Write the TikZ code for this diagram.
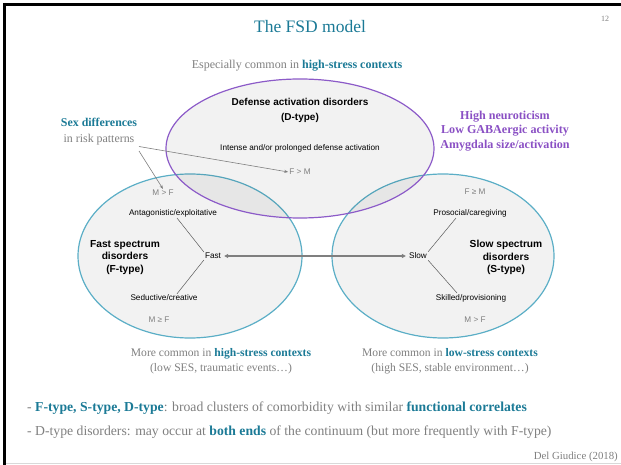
\documentclass[tikz,border=0pt]{standalone}
\usepackage{fontspec}
\setmainfont{Liberation Serif}
\setsansfont{Liberation Sans}
\usetikzlibrary{shapes.geometric,arrows.meta}
\definecolor{tealc}{HTML}{1B7A96}
\definecolor{grayt}{HTML}{7F7F7F}
\definecolor{purpt}{HTML}{8A50C4}
\definecolor{purpl}{HTML}{8C5BC8}
\definecolor{bluel}{HTML}{5BAEC6}
\definecolor{linec}{HTML}{595959}
\tikzset{
  blob/.style={ellipse, inner sep=0pt, fill=black, fill opacity=0.05, text opacity=1, line width=1.2pt},
  serift/.style={font=\fontsize{12}{14}\selectfont, text=grayt, align=center, inner sep=1pt},
  sanss/.style={font=\sffamily\fontsize{8.2}{9.5}\selectfont, text=black, inner sep=1pt},
  sexlab/.style={font=\sffamily\fontsize{8.2}{9.5}\selectfont, text=grayt, inner sep=1pt},
  sansb/.style={font=\sffamily\bfseries\fontsize{10.2}{12.5}\selectfont, align=center, inner sep=1pt},
  thinln/.style={draw=linec, line width=0.5pt},
  ptr/.style={draw=grayt, line width=0.6pt, -{Stealth[length=4pt,width=3pt]}},
}
\begin{document}
\begin{tikzpicture}[x=1pt,y=-1pt]
\useasboundingbox (0,0) rectangle (621,465);
% frame
\draw[line width=3pt] (3,4.5) -- (621,4.5);
\draw[line width=3pt] (4.5,3) -- (4.5,465);
\draw[black!15, line width=0.8pt] (6,463.6) -- (621,463.6);
% title
\node[font=\fontsize{17.5}{20}\selectfont, text=tealc] (title) at (310,27) {The FSD model};
\node[font=\fontsize{8}{9}\selectfont, text=grayt] (pnum) at (605,19) {12};
\node[serift] (esp) at (297,66) {Especially common in \textcolor{tealc}{\textbf{high-stress contexts}}};
% ellipses
\node[blob, draw=bluel, minimum width=224pt, minimum height=164pt] (ellF) at (190,256) {};
\node[blob, draw=bluel, minimum width=222pt, minimum height=164pt] (ellS) at (443,256) {};
\node[blob, draw=purpl, minimum width=268pt, minimum height=139pt] (ellD) at (300,148.5) {};
% D ellipse content
\node[sansb, font=\sffamily\bfseries\fontsize{10}{15}\selectfont] (dname) at (300,110.5) {Defense activation disorders\\(D-type)};
\node[sanss] (dint) at (300,148) {Intense and/or prolonged defense activation};
\node[sexlab] (fm) at (300,172) {F > M};
% Sex differences
\node[serift, font=\fontsize{11.9}{16}\selectfont] (sex) at (99,132) {\textcolor{tealc}{\textbf{Sex differences}}\\in risk patterns};
\coordinate (sexA) at (139,146.5);
\coordinate (sexB) at (139,151);
\draw[ptr] (sexA) -- (fm.west);
% purple text
\node[font=\bfseries\fontsize{12.1}{14.5}\selectfont, text=purpt, align=center] (neuro) at (505,131) {High neuroticism\\Low GABAergic activity\\Amygdala size/activation};
% F ellipse content
\node[sexlab] (mf1) at (163,193) {M > F};
\draw[ptr] (sexB) -- (mf1.north);
\node[sanss] (antag) at (173,213) {Antagonistic/exploitative};
\node[sansb] (fname) at (125,257.5) {Fast spectrum\\disorders\\(F-type)};
\node[sanss] (fast) at (213,256) {Fast};
\node[sanss] (sed) at (164,298) {Seductive/creative};
\node[sexlab] (mf2) at (159,320) {M ≥ F};
\draw[thinln] ([xshift=4pt]antag.south) -- (fast.north west);
\draw[thinln] ([xshift=13pt]sed.north) -- (fast.south west);
% S ellipse content
\node[sexlab] (fm2) at (475,192) {F ≥ M};
\node[sanss] (pros) at (470,213) {Prosocial/caregiving};
\node[sansb] (sname) at (506,257.5) {Slow spectrum\\disorders\\(S-type)};
\node[sanss] (slow) at (418,256) {Slow};
\node[sanss] (skill) at (471,298) {Skilled/provisioning};
\node[sexlab] (mf3) at (475,320) {M > F};
\draw[thinln] ([xshift=-14pt]pros.south) -- (slow.north east);
\draw[thinln] ([xshift=-14pt]skill.north) -- (slow.south east);
% continuum arrow
\draw[draw=grayt, line width=1.1pt, {Triangle[length=4pt,width=4pt]}-{Triangle[length=4pt,width=4pt]}, shorten <=2pt, shorten >=2pt] (fast.east) -- (slow.west);
% bottom texts
\node[serift, font=\fontsize{11.6}{15}\selectfont] (hs) at (221,361.5) {More common in \textcolor{tealc}{\textbf{high-stress contexts}}\\(low SES, traumatic events\dots)};
\node[serift, font=\fontsize{11.6}{15}\selectfont] (ls) at (450,361.5) {More common in \textcolor{tealc}{\textbf{low-stress contexts}}\\(high SES, stable environment\dots)};
\node[serift, font=\fontsize{13.7}{16}\selectfont, anchor=west] (b1) at (26,408) {- \textcolor{tealc}{\textbf{F-type, S-type, D-type}}: broad clusters of comorbidity with similar \textcolor{tealc}{\textbf{functional correlates}}};
\node[serift, font=\fontsize{13.7}{16}\selectfont, anchor=west] (b2) at (26,432) {- D-type disorders: may occur at \textcolor{tealc}{\textbf{both ends}} of the continuum (but more frequently with F-type)};
\node[serift, font=\fontsize{10.8}{12}\selectfont, anchor=east] (cite) at (619,457) {Del Giudice (2018)};
\end{tikzpicture}
\end{document}
